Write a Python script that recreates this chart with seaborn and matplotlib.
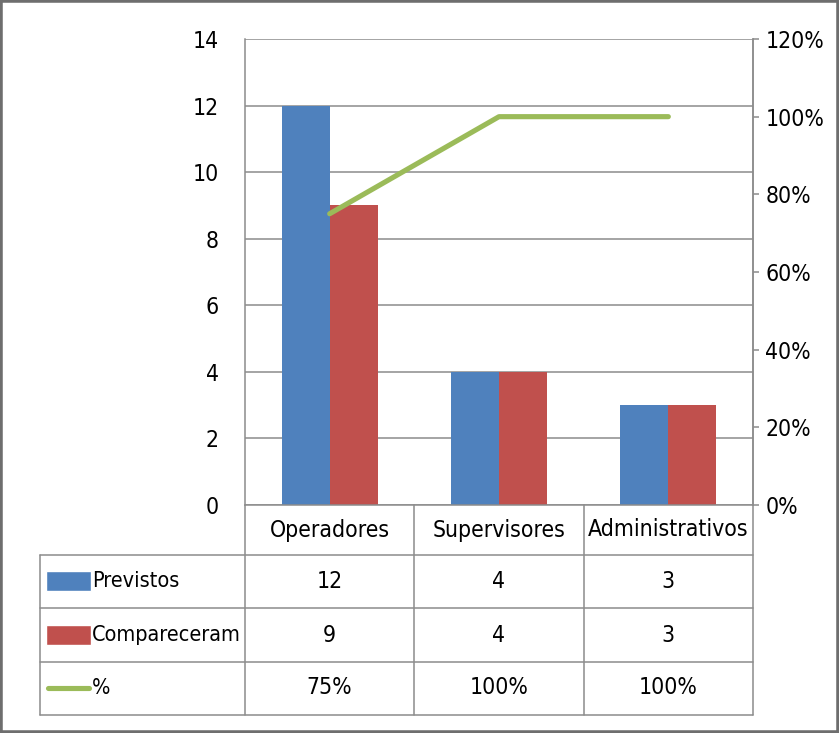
import matplotlib
matplotlib.use("Agg")
import matplotlib.pyplot as plt
import matplotlib.transforms as mtransforms
from matplotlib.patches import Rectangle
from matplotlib.ticker import PercentFormatter
import seaborn as sns
import pandas as pd
import numpy as np

categorias = ["Operadores", "Supervisores", "Administrativos"]
previstos = [12, 4, 3]
compareceram = [9, 4, 3]
percentual = [0.75, 1.00, 1.00]
series = ["Previstos", "Compareceram", "%"]
cores = ["#4F81BD", "#C0504D"]
cor_linha = "#9BBB59"
cinza = "#8C8C8C"

sns.set_style("white")
plt.rcParams["font.family"] = ["DejaVu Sans"]
plt.rcParams["font.stretch"] = "condensed"
plt.rcParams["text.color"] = "black"
fs = 16.5

df = pd.DataFrame({
    "categoria": categorias * 2,
    "serie": [series[0]] * len(categorias) + [series[1]] * len(categorias),
    "valor": previstos + compareceram,
})

W, H = 839, 733
fig = plt.figure(figsize=(W / 100, H / 100), dpi=100)

# plot area in pixels: x 245-753, y 39-505
ax = fig.add_axes([245 / W, 1 - 505 / H, 508 / W, 466 / H])

sns.barplot(
    data=df,
    x="categoria",
    y="valor",
    hue="serie",
    palette=cores,
    width=0.567,
    saturation=1,
    errorbar=None,
    legend=False,
    linewidth=0,
    ax=ax
)

ax.set_ylim(0, 14)
ax.set_yticks(range(0, 15, 2))
ax.yaxis.grid(True, color=cinza, linewidth=1.1)
ax.set_axisbelow(True)
ax.set_xlabel("")
ax.set_ylabel("")
ax.set_xticklabels([])
ax.tick_params(axis="x", length=0)
ax.tick_params(axis="y", length=0, pad=19, labelsize=fs, labelcolor="black")
ax.spines["top"].set_visible(False)
for s in ["left", "bottom", "right"]:
    ax.spines[s].set_color(cinza)
    ax.spines[s].set_linewidth(1.1)

ax2 = ax.twinx()
sns.lineplot(
    x=np.arange(len(categorias)),
    y=percentual,
    color=cor_linha,
    linewidth=3.7,
    solid_capstyle="round",
    ax=ax2
)
ax2.set_ylim(0, 1.2)
ax2.set_yticks(np.arange(0, 1.21, 0.2))
ax2.yaxis.set_major_formatter(PercentFormatter(1.0, decimals=0))
ax2.tick_params(axis="y", length=4, width=1.1, color=cinza, pad=5,
                labelsize=fs, labelcolor="black")
for s in ["top", "left", "bottom"]:
    ax2.spines[s].set_visible(False)
ax2.spines["right"].set_color(cinza)
ax2.spines["right"].set_linewidth(1.1)
ax.set_xlim(-0.5, len(categorias) - 0.5)

# data table below the plot
def ay(py):
    return (505 - py) / 466

def axx(px):
    return (px - 245) / 508

trans = mtransforms.blended_transform_factory(ax.transData, ax.transAxes)
y_base = ay(715)
linhas_h = [ay(555), ay(608), ay(662), ay(715)]
for i in range(len(categorias) + 1):
    ax.plot([i - 0.5, i - 0.5], [0, y_base], transform=trans,
            color=cinza, lw=1.1, clip_on=False)
for yy in linhas_h:
    ax.plot([axx(40), 1], [yy, yy], transform=ax.transAxes,
            color=cinza, lw=1.1, clip_on=False)
ax.plot([axx(40), axx(40)], [linhas_h[0], y_base], transform=ax.transAxes,
        color=cinza, lw=1.1, clip_on=False)

for i, c in enumerate(categorias):
    ax.text(i, ay(530), c, transform=trans, ha="center", va="center", fontsize=fs)

linhas_y = [ay(581), ay(635), ay(688)]
valores = [
    [str(v) for v in previstos],
    [str(v) for v in compareceram],
    [f"{v:.0%}" for v in percentual],
]
for yy, vals in zip(linhas_y, valores):
    for i, v in enumerate(vals):
        ax.text(i, yy, v, transform=trans, ha="center", va="center", fontsize=fs)

# legend keys inside the table
for yy, cor in zip(linhas_y[:2], cores):
    ax.add_patch(Rectangle((axx(46), yy - 0.0225), axx(91) - axx(46), 0.045,
                           transform=ax.transAxes, facecolor=cor,
                           clip_on=False))
ax.plot([axx(48), axx(89)], [linhas_y[2], linhas_y[2]], transform=ax.transAxes,
        color=cor_linha, lw=3.7, solid_capstyle="round", clip_on=False)
for yy, nome in zip(linhas_y, series):
    ax.text(axx(92), yy, nome, transform=ax.transAxes, ha="left", va="center",
            fontsize=fs - 1)

fig.patches.append(Rectangle((0, 0), 1, 1, transform=fig.transFigure,
                             fill=False, edgecolor="#6E6E6E", linewidth=4))

fig.savefig("out.png", dpi=100)
